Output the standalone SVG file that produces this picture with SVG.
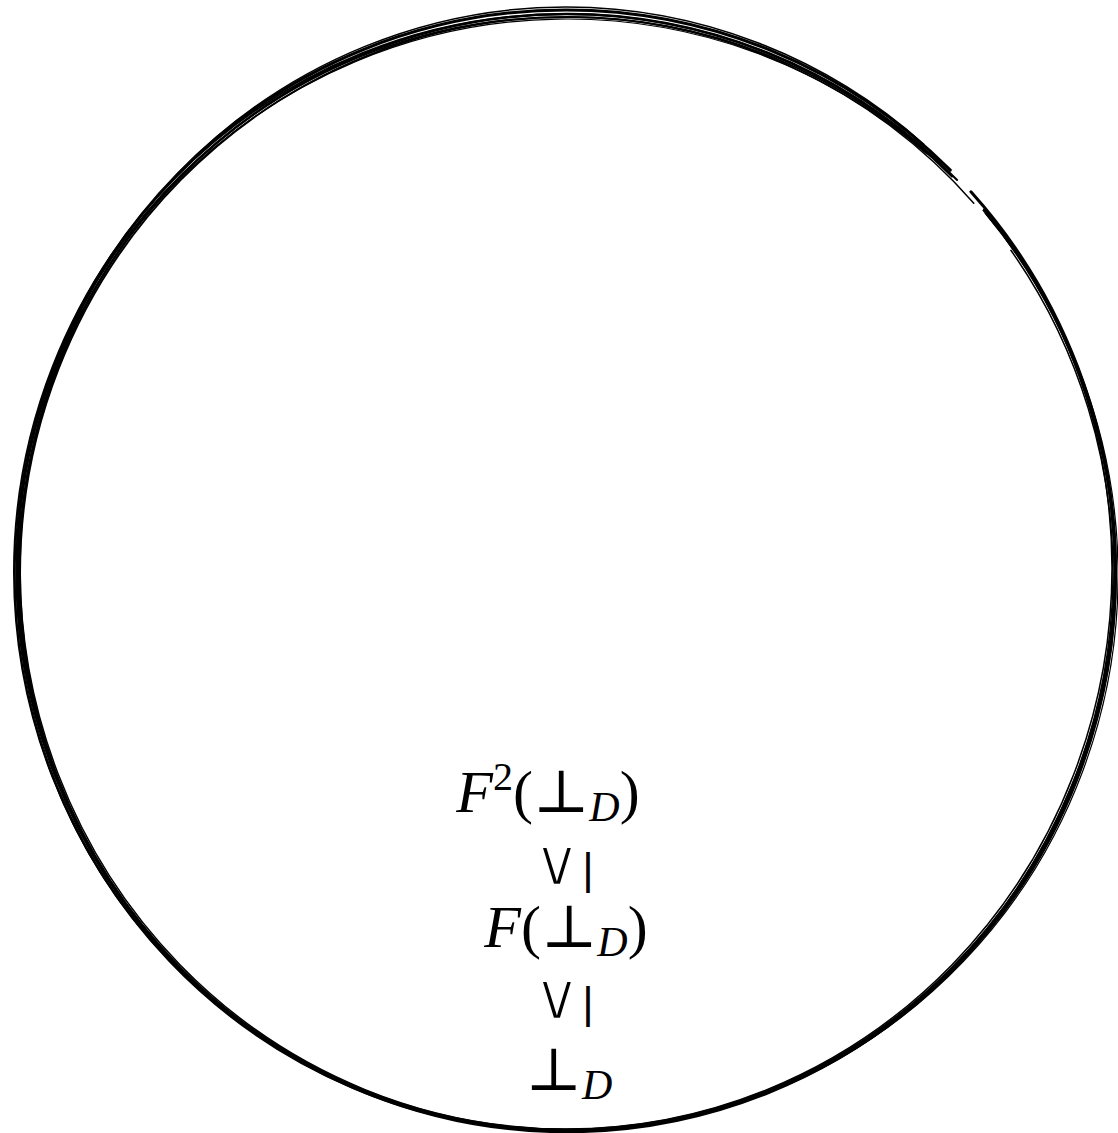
<svg xmlns="http://www.w3.org/2000/svg" width="1118" height="1133" viewBox="0 0 1118 1133">
<style>
.ring{fill:none;stroke:#000;stroke-linecap:round}
.m{font-family:"Liberation Serif","DejaVu Serif",serif;font-size:60px;fill:#000}
.i{font-style:italic}
.v{font-family:"DejaVu Sans","Liberation Sans",sans-serif;font-size:66px;fill:#000;stroke:#fff;stroke-width:2.6}
.b{font-family:"Liberation Sans","DejaVu Sans",sans-serif;font-size:44px;fill:#000}
</style>
<rect width="1118" height="1133" fill="#fff"/>
<g id="circle">
<ellipse class="ring" cx="566" cy="570" rx="549" ry="560" stroke-width="3" stroke-dasharray="3040 30 2000"/>
<ellipse class="ring" cx="567" cy="573" rx="548" ry="559" stroke-width="2.5" stroke-dasharray="3020 70 2000"/>
<ellipse class="ring" cx="565" cy="572" rx="551" ry="558" stroke-width="2" stroke-dasharray="3050 40 2000"/>
<ellipse class="ring" cx="566" cy="568" rx="546" ry="561" stroke-width="1.5" stroke-dasharray="3000 90 2000"/>
<ellipse class="ring" cx="568" cy="574" rx="548" ry="557" stroke-width="2" stroke-dasharray="3030 50 2000"/>
<ellipse class="ring" cx="564" cy="574" rx="549" ry="557" stroke-width="1.5" stroke-dasharray="3060 60 2000" transform="rotate(1 566 570)"/>
<ellipse class="ring" cx="567" cy="575" rx="551" ry="556" stroke-width="1.2" stroke-dasharray="3010 80 2000" transform="rotate(-1 566 570)"/>
</g>
<g id="n1"><text class="m" x="548" y="812" text-anchor="middle"><tspan class="i">F</tspan><tspan font-size="40" dy="-22">2</tspan><tspan dy="22">(⊥</tspan><tspan class="i" font-size="42" dy="9">D</tspan><tspan dy="-9">)</tspan></text></g>
<g id="r1"><text class="v" x="557" y="885" text-anchor="middle">∨</text><text class="b" x="588" y="884" text-anchor="middle">|</text></g>
<g id="n2"><text class="m" x="566" y="947" text-anchor="middle"><tspan class="i">F</tspan><tspan>(⊥</tspan><tspan class="i" font-size="42" dy="9">D</tspan><tspan dy="-9">)</tspan></text></g>
<g id="r2"><text class="v" x="557" y="1019" text-anchor="middle">∨</text><text class="b" x="588" y="1018" text-anchor="middle">|</text></g>
<g id="n3"><text class="m" x="569" y="1090" text-anchor="middle"><tspan>⊥</tspan><tspan class="i" font-size="42" dy="9">D</tspan></text></g>
</svg>
